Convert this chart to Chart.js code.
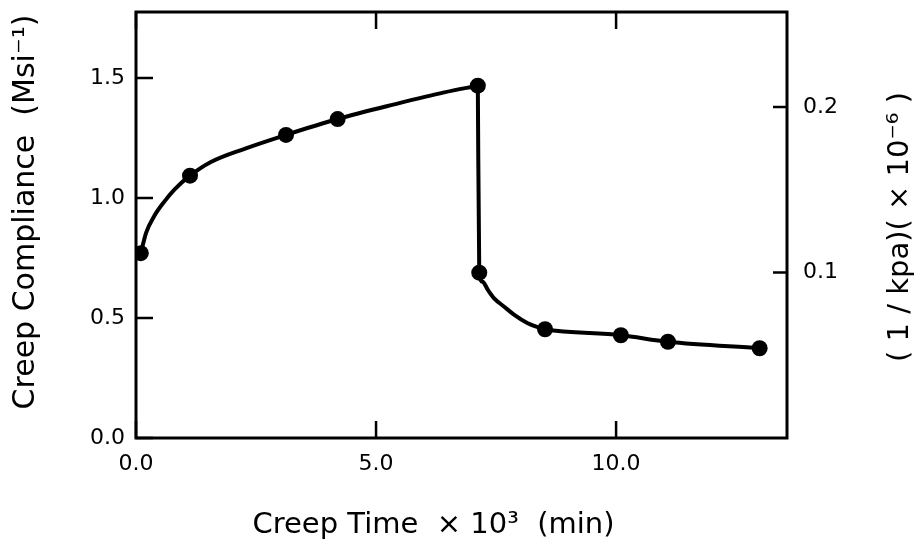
<!DOCTYPE html>
<html>
<head>
<meta charset="utf-8">
<title>Creep Compliance vs Creep Time</title>
<script src="https://cdn.jsdelivr.net/npm/chart.js@4.4.1/dist/chart.umd.min.js"></script>
<style>
  html, body { margin: 0; padding: 0; background: #fff; }
  #wrap { width: 921px; height: 548px; }
</style>
</head>
<body>
<div id="wrap"><canvas id="creepChart"></canvas></div>
<script>
// measured points: time (x 10^3 min), compliance (Msi^-1)
const creepTime = [0.10, 1.125, 3.125, 4.2, 7.12, 7.15, 8.52, 10.1, 11.08, 12.99];
const compliance = [0.77, 1.093, 1.263, 1.329, 1.468, 0.689, 0.453, 0.428, 0.401, 0.374];

// the drawn curve (loading branch, then recovery branch)
const loadTime = [0.10, 0.21, 0.38, 0.59, 0.80, 1.125, 1.56, 2.26, 3.125, 4.2, 5.38, 6.42, 7.12];
const loadCompliance = [0.77, 0.855, 0.925, 0.985, 1.035, 1.093, 1.15, 1.205, 1.263, 1.329, 1.39, 1.44, 1.468];
const recoverTime = [7.12, 7.15, 7.22, 7.33, 7.46, 7.67, 7.88, 8.16, 8.44, 8.52, 10.1, 11.08, 12.99];
const recoverCompliance = [1.468, 0.689, 0.651, 0.617, 0.582, 0.547, 0.513, 0.478, 0.457, 0.453, 0.428, 0.401, 0.374];

// axes
const xTicks = [0, 5, 10];
const yTicks = [0, 0.5, 1.0, 1.5];
const kpaTicks = [0.1, 0.2];
const xMax = 13.56;
const yMax = 1.775;
const msiToKpa = 0.145; // 1 Msi^-1 = 0.145 (1/kPa) x 10^-6

const xTitle = 'Creep Time  \u00d7 10\u00b3  (min)';
const yTitle = 'Creep Compliance  (Msi\u207b\u00b9)';
const kpaTitle = '( 1 / kpa)( \u00d7 10\u207b\u2076 )';

const FONT = '"DejaVu Sans", sans-serif';

// box, inward tick marks and titles
const framePlugin = {
  id: 'frame',
  afterDraw(chart) {
    const { ctx, chartArea: a, scales } = chart;
    ctx.save();
    ctx.strokeStyle = '#000';
    ctx.lineWidth = 3;
    ctx.strokeRect(a.left, a.top, a.right - a.left, a.bottom - a.top);

    ctx.lineWidth = 2.5;
    ctx.beginPath();
    xTicks.forEach(v => {
      const px = scales.x.getPixelForValue(v);
      ctx.moveTo(px, a.bottom); ctx.lineTo(px, a.bottom - 17);
      ctx.moveTo(px, a.top); ctx.lineTo(px, a.top + 17);
    });
    yTicks.forEach(v => {
      const py = scales.y.getPixelForValue(v);
      ctx.moveTo(a.left, py); ctx.lineTo(a.left + 17, py);
    });
    kpaTicks.forEach(v => {
      const py = scales.kpa.getPixelForValue(v);
      ctx.moveTo(a.right, py); ctx.lineTo(a.right - 14, py);
    });
    ctx.stroke();

    ctx.fillStyle = '#000';
    ctx.textAlign = 'center';
    ctx.textBaseline = 'middle';
    const midY = (a.top + a.bottom) / 2;
    ctx.font = '29px ' + FONT;
    ctx.fillText(xTitle, (a.left + a.right) / 2 - 28, a.bottom + 87);

    ctx.font = '30px ' + FONT;
    ctx.save();
    ctx.translate(a.left - 110, midY - 13);
    ctx.rotate(-Math.PI / 2);
    ctx.fillText(yTitle, 0, 0);
    ctx.restore();

    ctx.font = '29px ' + FONT;
    ctx.save();
    ctx.translate(a.right + 113, midY + 2);
    ctx.rotate(-Math.PI / 2);
    ctx.fillText(kpaTitle, 0, 0);
    ctx.restore();

    ctx.restore();
  }
};

const curveStyle = {
  showLine: true,
  cubicInterpolationMode: 'monotone',
  borderColor: '#000',
  borderWidth: 4,
  pointRadius: 0,
  pointHoverRadius: 0
};

const tickFont = { family: FONT, size: 22 };

new Chart(document.getElementById('creepChart'), {
  type: 'scatter',
  data: {
    datasets: [{
      label: 'loading',
      data: loadTime.map((t, i) => ({ x: t, y: loadCompliance[i] })),
      ...curveStyle
    }, {
      label: 'recovery',
      data: recoverTime.map((t, i) => ({ x: t, y: recoverCompliance[i] })),
      ...curveStyle
    }, {
      label: 'measured',
      data: creepTime.map((t, i) => ({ x: t, y: compliance[i] })),
      showLine: false,
      pointRadius: 8,
      pointBackgroundColor: '#000',
      pointBorderWidth: 0
    }]
  },
  options: {
    responsive: true,
    maintainAspectRatio: false,
    animation: false,
    devicePixelRatio: 1,
    layout: { padding: { top: 12, left: 0, right: 0, bottom: 0 } },
    plugins: {
      legend: { display: false },
      tooltip: { enabled: false }
    },
    scales: {
      x: {
        type: 'linear',
        position: 'bottom',
        min: 0,
        max: xMax,
        afterBuildTicks: s => { s.ticks = xTicks.map(v => ({ value: v })); },
        afterFit: s => { s.height = 110; s.paddingLeft = 0; s.paddingRight = 0; },
        grid: { display: false, drawTicks: false },
        border: { display: false },
        ticks: { padding: 13, color: '#000', font: tickFont, callback: v => v.toFixed(1) }
      },
      y: {
        type: 'linear',
        position: 'left',
        min: 0,
        max: yMax,
        afterBuildTicks: s => { s.ticks = yTicks.map(v => ({ value: v })); },
        afterFit: s => { s.width = 136; s.paddingTop = 0; s.paddingBottom = 0; },
        grid: { display: false, drawTicks: false },
        border: { display: false },
        ticks: { padding: 11, color: '#000', font: tickFont, callback: v => v.toFixed(1) }
      },
      kpa: {
        type: 'linear',
        position: 'right',
        min: 0,
        max: yMax * msiToKpa,
        afterBuildTicks: s => { s.ticks = kpaTicks.map(v => ({ value: v })); },
        afterFit: s => { s.width = 134; s.paddingTop = 0; s.paddingBottom = 0; },
        grid: { display: false, drawTicks: false },
        border: { display: false },
        ticks: { padding: 16, color: '#000', font: tickFont, callback: v => v.toFixed(1) }
      }
    }
  },
  plugins: [framePlugin]
});
</script>
</body>
</html>
